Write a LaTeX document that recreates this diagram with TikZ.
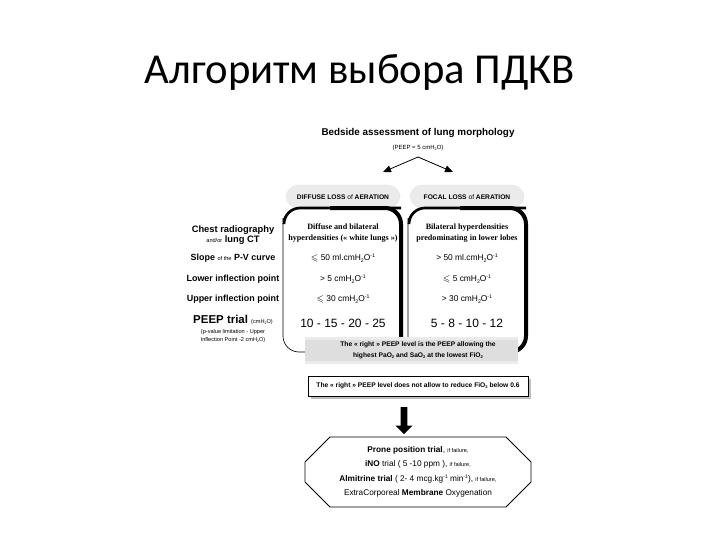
\documentclass[tikz,border=0pt]{standalone}
\usepackage{fontspec}
\usepackage{amssymb}
\setmainfont{Liberation Sans}
\newfontfamily\titlefont{Carlito}
\newfontfamily\serifx{Liberation Serif}
\usetikzlibrary{arrows.meta,shapes.arrows}
\newcommand\smalltxt{\fontsize{4.2}{5}\selectfont\mdseries}
\newcommand\lo[1]{\raisebox{-0.35ex}{\scalebox{0.62}{#1}}}
\newcommand\hi[1]{\raisebox{0.7ex}{\scalebox{0.62}{#1}}}
\begin{document}
\begin{tikzpicture}[x=0.75pt,y=-0.75pt,
  lbl/.style={align=center,font=\fontsize{6.7}{7.6}\selectfont\bfseries,inner sep=0},
  cell/.style={align=center,font=\fontsize{6.3}{7.4}\selectfont,inner sep=0},
  sercell/.style={align=center,font=\fontsize{6.1}{8.2}\selectfont\serifx\bfseries,inner sep=0},
  big/.style={align=center,font=\fontsize{9}{10}\selectfont,inner sep=0},
  cloud/.style={fill=gray!16,draw=gray!30,densely dotted,rounded corners=9},
  thinbox/.style={draw,line width=0.5pt,rounded corners=12},
  octtxt/.style={align=center,font=\fontsize{6.2}{10.8}\selectfont,inner sep=0}]
\useasboundingbox (0,0) rectangle (720,540);
\fill[white] (0,0) rectangle (720,540);
% title
\node[font=\titlefont\fontsize{32}{36}\selectfont,inner sep=0] (title) at (360,72) {Алгоритм выбора ПДКВ};
% top
\node[font=\fontsize{7.4}{9}\selectfont\bfseries,inner sep=0] (bedside) at (418,133) {Bedside assessment of lung morphology};
\node[font=\fontsize{4.5}{5}\selectfont,inner sep=0] (peep5) at (418,148) {(PEEP = 5 cmH\lo{2}O)};
\coordinate (split) at (418,157);
\coordinate (la) at (383,172);
\coordinate (ra) at (453,172);
\draw[line width=0.6pt,-{Triangle[length=6pt,width=5pt]}] (split) -- (la);
\draw[line width=0.6pt,-{Triangle[length=6pt,width=5pt]}] (split) -- (ra);
% clouds
\path[cloud] (286,185) rectangle (400,208);
\path[cloud] (410,185) rectangle (524,208);
\node[font=\fontsize{5}{6}\selectfont\bfseries,inner sep=0] (diffuse) at (343,197) {DIFFUSE LOSS {\mdseries of} AERATION};
\node[font=\fontsize{5}{6}\selectfont\bfseries,inner sep=0] (focal) at (467,197) {FOCAL LOSS {\mdseries of} AERATION};
% boxes
\path[thinbox] (283,208) rectangle (401,352);
\draw[line width=2pt,rounded corners=12] (284,218) |- (401,208);
\draw[line width=3pt,rounded corners=12] (330,208) -| (401,338);
\path[thinbox] (408,208) rectangle (526,352);
\draw[line width=2pt,rounded corners=12] (409,218) |- (526,208);
\draw[line width=3pt,rounded corners=12] (460,208) -| (526,352) -- (505,352);
% band
\fill[gray!16] (305,337) rectangle (518,364);
\fill[gray!26] (305,340) rectangle (518,361);
\node[align=center,font=\fontsize{5}{8}\selectfont\bfseries,inner sep=0] (rightpeep) at (418,350) {The « right » PEEP level is the PEEP allowing the\\highest PaO\lo{2} and SaO\lo{2} at the lowest FiO\lo{2}};
% left labels
\node[lbl,font=\fontsize{7}{8}\selectfont\bfseries] (chest) at (233,235) {Chest radiography\\{\smalltxt and/or} lung CT};
\node[lbl] (slope) at (233,258) {Slope {\smalltxt of the} P-V curve};
\node[lbl] (lower) at (233,279) {Lower inflection point};
\node[lbl] (upper) at (233,299) {Upper inflection point};
\node[lbl,font=\fontsize{8.6}{9}\selectfont\bfseries] (peeptrial) at (233,320) {PEEP trial {\smalltxt (cmH\lo{2}O)}};
\node[align=center,font=\fontsize{4.2}{5.4}\selectfont,inner sep=0] (pval) at (233,336) {(p-value limitation - Upper\\Inflection Point -2 cmH\lo{2}O)};
% left box contents
\node[sercell] (diffuseb) at (343,233) {Diffuse and bilateral\\hyperdensities (« white lungs »)};
\node[cell] (l1) at (343,258) {$\leqslant$ 50 ml.cmH\lo{2}O\hi{-1}};
\node[cell] (l2) at (343,279) {> 5 cmH\lo{2}O\hi{-1}};
\node[cell] (l3) at (343,299) {$\leqslant$ 30 cmH\lo{2}O\hi{-1}};
\node[big] (l4) at (343,323) {10 - 15 - 20 - 25};
% right box contents
\node[sercell] (focalb) at (467,233) {Bilateral hyperdensities\\predominating in lower lobes};
\node[cell] (r1) at (467,258) {> 50 ml.cmH\lo{2}O\hi{-1}};
\node[cell] (r2) at (467,279) {$\leqslant$ 5 cmH\lo{2}O\hi{-1}};
\node[cell] (r3) at (467,299) {> 30 cmH\lo{2}O\hi{-1}};
\node[big] (r4) at (467,323) {5 - 8 - 10 - 12};
% FiO2 box
\fill[gray!50] (311,379) rectangle (531,399);
\node[draw,fill=white,line width=0.6pt,minimum width=220*0.75pt,minimum height=20*0.75pt,inner sep=0,font=\fontsize{5}{6}\selectfont\bfseries] (fio2) at (418,386) {The « right » PEEP level does not allow to reduce FiO\lo{2} below 0.6};
% thick arrow
\node[single arrow,fill=black,rotate=-90,minimum height=27*0.75pt,minimum width=17*0.75pt,single arrow head extend=3pt,inner sep=1.8pt] (bigarrow) at (404,419) {};
% octagon
\draw[line width=0.7pt] (330,437) -- (506,437) -- (531,462) -- (531,482) -- (506,507) -- (330,507) -- (305,482) -- (305,462) -- cycle;
\node[octtxt] (octa) at (418,472) {\textbf{Prone position trial}, {\smalltxt if failure,}\\\textbf{iNO} trial ( 5 -10 ppm ), {\smalltxt if failure,}\\\textbf{Almitrine trial} ( 2- 4 mcg.kg\hi{-1} min\hi{-1}), {\smalltxt if failure,}\\ExtraCorporeal \textbf{Membrane} Oxygenation};
\end{tikzpicture}
\end{document}
